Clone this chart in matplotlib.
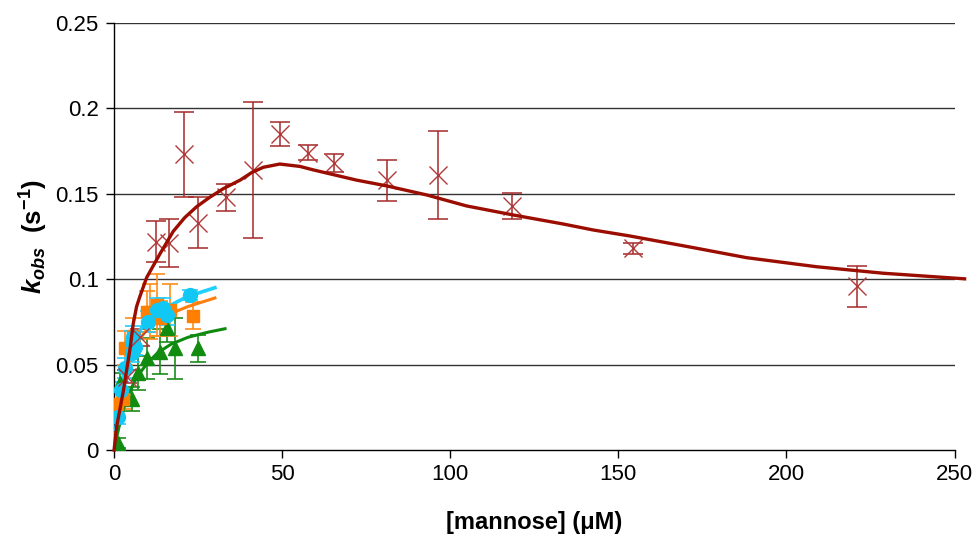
import matplotlib
matplotlib.use("Agg")
import matplotlib.pyplot as plt

plt.rcParams["font.family"] = ["Liberation Sans", "DejaVu Sans"]
plt.rcParams["mathtext.fontset"] = "custom"
plt.rcParams["mathtext.it"] = "Liberation Sans:bold:italic"
plt.rcParams["mathtext.rm"] = "Liberation Sans:bold"
plt.rcParams["mathtext.bf"] = "Liberation Sans:bold"

# wild type: kobs with standard errors
wt_x = [3.8, 7.7, 12.5, 16.4, 20.9, 24.9, 33.3, 41.4, 49.3, 57.8, 65.5, 81.1, 96.4, 118.4, 154.4, 221.0]
wt_y = [0.043, 0.066, 0.122, 0.121, 0.173, 0.133, 0.148, 0.164, 0.185, 0.174, 0.168, 0.158, 0.161, 0.143, 0.118, 0.096]
wt_err = [0.004, 0.005, 0.012, 0.014, 0.025, 0.015, 0.008, 0.040, 0.007, 0.0045, 0.005, 0.012, 0.026, 0.0075, 0.003, 0.012]

# substrate-inhibition fit for wild type
wt_fit_x = [0, 0.8, 2.8, 4.8, 5.7, 6.7, 7.7, 9.7, 13.7, 17.6, 21.0, 24.6, 28.5, 32.5, 37.5, 41.0, 44.4, 49.3, 55.3,
            59.2, 72.1, 81.1, 93.0, 104.8, 118.7, 133.6, 142.5, 153.4, 172.2, 188.1, 208.9, 228.7, 253.0]
wt_fit_y = [0, 0.014, 0.035, 0.060, 0.074, 0.084, 0.090, 0.101, 0.115, 0.128, 0.136, 0.1425, 0.148, 0.153, 0.158, 0.1625, 0.1655, 0.1674, 0.1660,
            0.164, 0.158, 0.1546, 0.1493, 0.1429, 0.1376, 0.1323, 0.1288, 0.1253, 0.1185, 0.1126, 0.1073, 0.1035, 0.1002]

# mutant A (orange squares)
a_x = [1.0, 2.7, 3.3, 5.7, 9.7, 10.7, 12.7, 13.7, 16.6, 23.6]
a_y = [0.027, 0.030, 0.0595, 0.067, 0.081, 0.081, 0.085, 0.077, 0.082, 0.0786]
a_err = [0.006, 0.006, 0.010, 0.010, 0.012, 0.016, 0.018, 0.010, 0.015, 0.008]
a_fit_x = [0.5, 1.3, 2, 3, 4.5, 6, 8, 10, 13, 17, 22, 30]
a_fit_y = [0.010, 0.022, 0.031, 0.041, 0.052, 0.059, 0.066, 0.071, 0.076, 0.080, 0.084, 0.089]

# mutant B (cyan circles)
b_x = [1.3, 2.0, 3.3, 5.3, 5.3, 6.2, 5.7, 10.2, 12.7, 14.7, 15.7, 22.6]
b_y = [0.0195, 0.035, 0.048, 0.0566, 0.0634, 0.0605, 0.0664, 0.0751, 0.082, 0.083, 0.079, 0.0907]
b_err = [0.004, 0.005, 0.006, 0.005, 0.006, 0.005, 0.006, 0.006, 0.007, 0.006, 0.006, 0.003]
b_fit_x = [0.5, 1.3, 2, 3, 4.5, 6, 8, 10, 13, 17, 22, 30]
b_fit_y = [0.012, 0.025, 0.035, 0.046, 0.056, 0.064, 0.071, 0.076, 0.081, 0.085, 0.090, 0.095]

# mutant C (green triangles)
c_x = [1.3, 1.8, 5.3, 7.2, 9.7, 13.7, 15.7, 18.1, 25.1]
c_y = [0.004, 0.039, 0.030, 0.045, 0.0537, 0.0576, 0.0712, 0.0595, 0.0595]
c_err = [0.003, 0.006, 0.007, 0.010, 0.012, 0.013, 0.008, 0.018, 0.008]
c_fit_x = [0.5, 1.3, 2, 3, 4.5, 6, 8, 10, 13, 17, 22, 28, 33]
c_fit_y = [0.005, 0.012, 0.018, 0.025, 0.033, 0.040, 0.046, 0.051, 0.057, 0.062, 0.066, 0.069, 0.071]

fig = plt.figure(figsize=(9.75, 5.42), dpi=100)
ax = fig.add_axes([0.117, 0.1697, 0.862, 0.788])

for yv in [0.05, 0.1, 0.15, 0.2, 0.25]:
    ax.axhline(yv, color="#333333", lw=1.0, zorder=0.5)

# green series
ax.errorbar(c_x, c_y, yerr=c_err, fmt="none", ecolor="#1a8c1a", elinewidth=1.2, capsize=6, capthick=1.2, zorder=2)
ax.plot(c_fit_x, c_fit_y, color="#0f8a0f", lw=2.2, zorder=3)
ax.plot(c_x, c_y, "^", color="#118c11", ms=10, mec="#118c11", zorder=4)

# orange series
ax.errorbar(a_x, a_y, yerr=a_err, fmt="none", ecolor="#ff8c1a", elinewidth=1.2, capsize=6, capthick=1.2, zorder=2)
ax.plot(a_fit_x, a_fit_y, color="#ff7f0e", lw=2.2, zorder=3)
ax.plot(a_x, a_y, "s", color="#ff7f00", ms=8.5, mec="#ff7f00", zorder=4)

# cyan series
ax.errorbar(b_x, b_y, yerr=b_err, fmt="none", ecolor="#22ccff", elinewidth=1.2, capsize=6, capthick=1.2, zorder=2)
ax.plot(b_fit_x, b_fit_y, color="#1fd0ff", lw=2.6, zorder=3)
ax.plot(b_x, b_y, "o", color="#11c8f5", ms=10, mec="#11c8f5", zorder=5)

# wild type
ax.errorbar(wt_x, wt_y, yerr=wt_err, fmt="none", ecolor="#a52a2a", elinewidth=1.1, capsize=7, capthick=1.1, zorder=2)
ax.plot(wt_x, wt_y, "x", color="#b03a3a", ms=13, mew=1.0, zorder=6)
ax.plot(wt_fit_x, wt_fit_y, color="#9b0d00", lw=2.4, zorder=6, clip_on=False)

ax.set_xlim(0, 250)
ax.set_ylim(0, 0.25)
ax.set_xticks([0, 50, 100, 150, 200, 250])
ax.set_xticklabels(["0", "50", "100", "150", "200", "250"])
ax.set_yticks([0, 0.05, 0.1, 0.15, 0.2, 0.25])
ax.set_yticklabels(["0", "0.05", "0.1", "0.15", "0.2", "0.25"])
ax.tick_params(axis="both", direction="out", length=6, width=1, labelsize=16, colors="black")
ax.tick_params(axis="x", pad=4)
ax.tick_params(axis="y", pad=5)

for side in ["top", "right"]:
    ax.spines[side].set_visible(False)
for side in ["left", "bottom"]:
    ax.spines[side].set_linewidth(1.0)
    ax.spines[side].set_color("black")

ax.set_xlabel("[mannose] (\u03bcM)", fontsize=17, fontweight="bold", labelpad=19)
ax.set_ylabel(r"$k_{obs}$  (s$^{-1}$)", fontsize=18.5, fontweight="bold", labelpad=4)

fig.savefig("out.png", dpi=100)
